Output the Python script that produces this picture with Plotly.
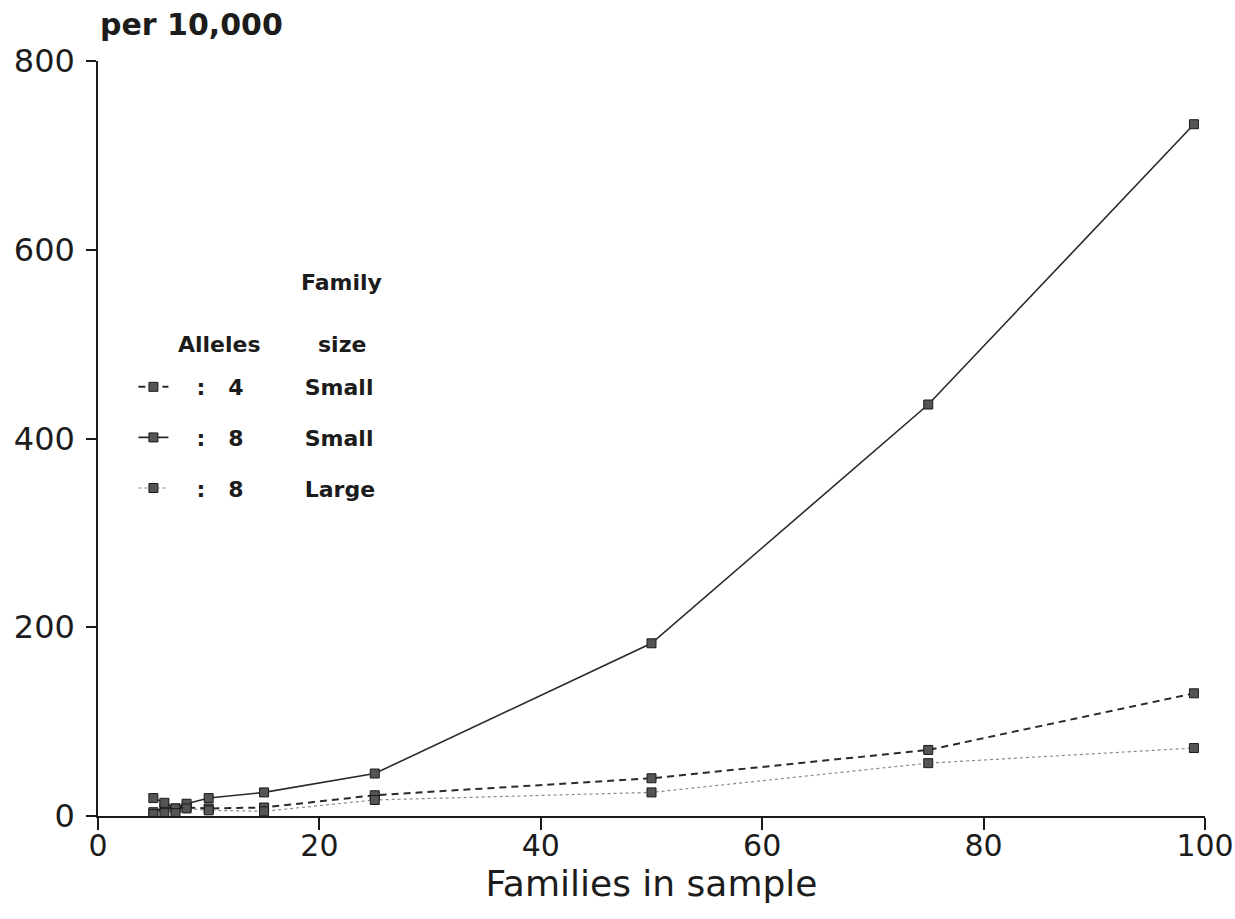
import plotly.graph_objects as go

families = [5, 6, 7, 8, 10, 15, 25, 50, 75, 99]
alleles4_small = [4, 9, 8, 9, 8, 9, 22, 40, 70, 130]
alleles8_small = [19, 14, 8, 13, 19, 25, 45, 183, 436, 733]
alleles8_large = [2, 3, 3, 8, 6, 5, 17, 25, 56, 72]

x_ticks = [0, 20, 40, 60, 80, 100]
y_ticks = [0, 200, 400, 600, 800]

NB = "\u00a0"
FONT = "DejaVu Sans"
INK = "#1c1c1c"

fig = go.Figure()

marker = dict(symbol="square", size=9, color="#555555", line=dict(color="#1a1a1a", width=1))

def label(a, size):
    return NB * 3 + ":" + NB * 3 + a + NB * 8 + size

fig.add_trace(go.Scatter(
    x=families, y=alleles4_small, mode="lines+markers",
    name=label("4", "Small"), legendgroup="a",
    line=dict(color="#2a2a2a", width=2, dash="7px,5px"), marker=marker))
fig.add_trace(go.Scatter(
    x=families, y=alleles8_small, mode="lines+markers",
    name=label("8", "Small"), legendgroup="b",
    line=dict(color="#2a2a2a", width=1.6), marker=marker))
fig.add_trace(go.Scatter(
    x=families, y=alleles8_large, mode="lines+markers",
    name=label("8", "Large"), legendgroup="c",
    line=dict(color="#8a8a8a", width=1.2, dash="dot"), marker=marker))

fig.update_layout(
    width=1235, height=915,
    margin=dict(l=98, r=30, t=61, b=99, autoexpand=False),
    paper_bgcolor="white", plot_bgcolor="white",
    font=dict(family=FONT, color=INK),
    showlegend=True,
    legend=dict(
        x=0.032, y=0.596, xanchor="left", yanchor="top",
        font=dict(family=FONT, size=22, color=INK, weight="bold"),
        traceorder="grouped", tracegroupgap=19,
        bgcolor="rgba(0,0,0,0)",
    ),
    xaxis=dict(
        range=[0, 100], tickvals=x_ticks, showgrid=False, zeroline=False,
        automargin=False, ticklabeloverflow="allow",
        showline=True, linecolor="#1a1a1a", linewidth=1.5,
        ticks="outside", ticklen=12, tickwidth=1.5, tickcolor="#1a1a1a",
        tickfont=dict(family=FONT, size=30, color=INK),
        ticklabelstandoff=-10,
        title=dict(text="Families in sample", font=dict(family=FONT, size=36, color=INK), standoff=6),
    ),
    yaxis=dict(
        range=[0, 800], tickvals=y_ticks, showgrid=False, zeroline=False,
        automargin=False, ticklabeloverflow="allow",
        showline=True, linecolor="#1a1a1a", linewidth=1.5,
        ticks="outside", ticklen=10, tickwidth=1.5, tickcolor="#1a1a1a",
        tickfont=dict(family=FONT, size=32, color=INK),
        ticklabelstandoff=5,
    ),
    annotations=[
        dict(text="per 10,000", xref="paper", yref="paper", x=0, y=1, xanchor="left",
             yanchor="bottom", yshift=17, showarrow=False,
             font=dict(family=FONT, size=30, color=INK, weight="bold")),
        dict(text="Family", xref="paper", yref="paper", x=0.2204, y=0.706, xanchor="center",
             yanchor="middle", showarrow=False,
             font=dict(family=FONT, size=22, color=INK, weight="bold")),
        dict(text="Alleles", xref="paper", yref="paper", x=0.1102, y=0.625, xanchor="center",
             yanchor="middle", showarrow=False,
             font=dict(family=FONT, size=22, color=INK, weight="bold")),
        dict(text="size", xref="paper", yref="paper", x=0.2204, y=0.625, xanchor="center",
             yanchor="middle", showarrow=False,
             font=dict(family=FONT, size=22, color=INK, weight="bold")),
    ],
)

fig.write_html(
    "out.html",
    config={"displayModeBar": False},
    post_script="document.body.style.margin='0';document.body.style.overflow='hidden';",
)
